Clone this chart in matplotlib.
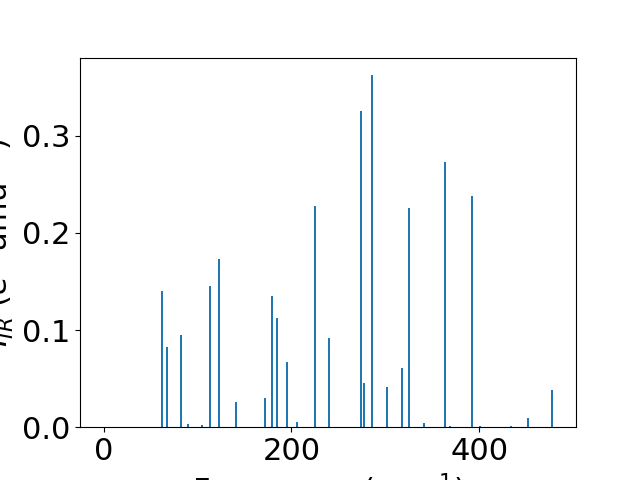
import numpy as np
import matplotlib
matplotlib.use("Agg")
import matplotlib.pyplot as plt

# frequencies (cm^-1) and IR intensities
freqs = [0.0, 62.1, 67.5, 82.4, 89.9, 105.2, 113.4, 123.0, 141.2, 172.1,
         179.6, 184.9, 195.6, 206.3, 224.8, 240.0, 273.6, 276.8, 285.6,
         301.7, 317.7, 325.2, 341.2, 363.6, 369.0, 392.5, 401.0, 434.1,
         452.3, 477.9]
intensities = [0.0, 0.1406, 0.0827, 0.0951, 0.0031, 0.0020, 0.1458, 0.1737,
               0.0258, 0.0300, 0.1355, 0.1127, 0.0672, 0.0052, 0.2275, 0.0915,
               0.3257, 0.0455, 0.3625, 0.0414, 0.0610, 0.2254, 0.0041, 0.2730,
               0.0010, 0.2378, 0.0012, 0.0012, 0.0093, 0.0383]


def plot_spectrum():
    plt.rcParams['font.size'] = 22
    fig = plt.figure(figsize=(6.4, 4.8), dpi=100)
    ax = fig.add_subplot(111)
    ax.bar(freqs, intensities, width=2.2)
    ax.set_xlabel('Frequency (cm$^{-1}$)')
    ax.set_ylabel('$I_{IR}$ ($e^2$ amu$^{-1}$)')
    fig.savefig('out.png', dpi=100)


def main():
    plot_spectrum()


if __name__ == "__main__":
    main()
